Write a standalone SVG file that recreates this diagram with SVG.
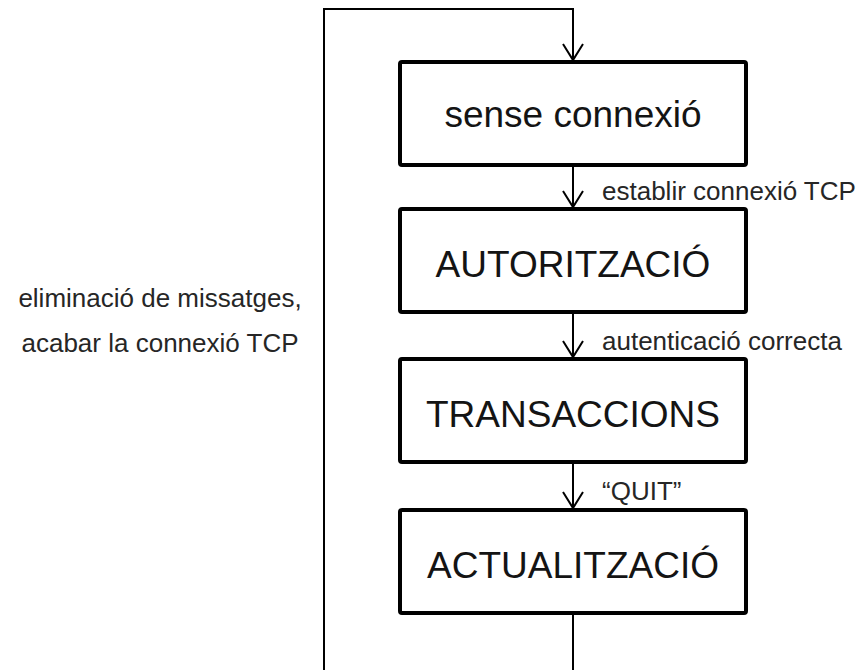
<svg xmlns="http://www.w3.org/2000/svg" width="863" height="670" viewBox="0 0 863 670">
  <style>
    .box { fill: #ffffff; stroke: #000000; stroke-width: 4; stroke-linejoin: round; }
    .state { font-family: "Liberation Sans", Arial, sans-serif; font-size: 37px; fill: #141414; text-anchor: middle; }
    .lbl { font-family: "Liberation Sans", Arial, sans-serif; font-size: 26px; fill: #262626; }
    .wire { fill: none; stroke: #000000; stroke-width: 2; }
  </style>
  <defs>
    <marker id="vee" viewBox="0 0 24 20" refX="12" refY="18" markerWidth="24" markerHeight="20" markerUnits="userSpaceOnUse" orient="0">
      <path d="M2,2 L12,18 L22,2" fill="none" stroke="#000000" stroke-width="2"/>
    </marker>
  </defs>

  <rect width="863" height="670" fill="#ffffff"/>

  <!-- connectors -->
  <g id="connectors">
    <path class="wire" d="M324,670 L324,9 L573,9 L573,60" marker-end="url(#vee)"/>
    <path class="wire" d="M573,165 L573,207" marker-end="url(#vee)"/>
    <path class="wire" d="M573,312 L573,357" marker-end="url(#vee)"/>
    <path class="wire" d="M573,462 L573,508" marker-end="url(#vee)"/>
    <path class="wire" d="M573,613 L573,670"/>
    <text class="lbl" x="602" y="200">establir connexió TCP</text>
    <text class="lbl" x="602" y="350">autenticació correcta</text>
    <text class="lbl" x="602" y="500">“QUIT”</text>
    <text class="lbl" x="160" y="307" text-anchor="middle">eliminació de missatges,</text>
    <text class="lbl" x="160" y="352" text-anchor="middle">acabar la connexió TCP</text>
  </g>

  <!-- states -->
  <g id="sense-connexio">
    <rect class="box" x="400" y="62" width="346" height="103" rx="2"/>
    <text class="state" x="573" y="127">sense connexió</text>
  </g>
  <g id="autoritzacio">
    <rect class="box" x="400" y="209" width="346" height="103" rx="2"/>
    <text class="state" x="573" y="277">AUTORITZACIÓ</text>
  </g>
  <g id="transaccions">
    <rect class="box" x="400" y="359" width="346" height="103" rx="2"/>
    <text class="state" x="573" y="427">TRANSACCIONS</text>
  </g>
  <g id="actualitzacio">
    <rect class="box" x="400" y="510" width="346" height="103" rx="2"/>
    <text class="state" x="573" y="578">ACTUALITZACIÓ</text>
  </g>
</svg>
